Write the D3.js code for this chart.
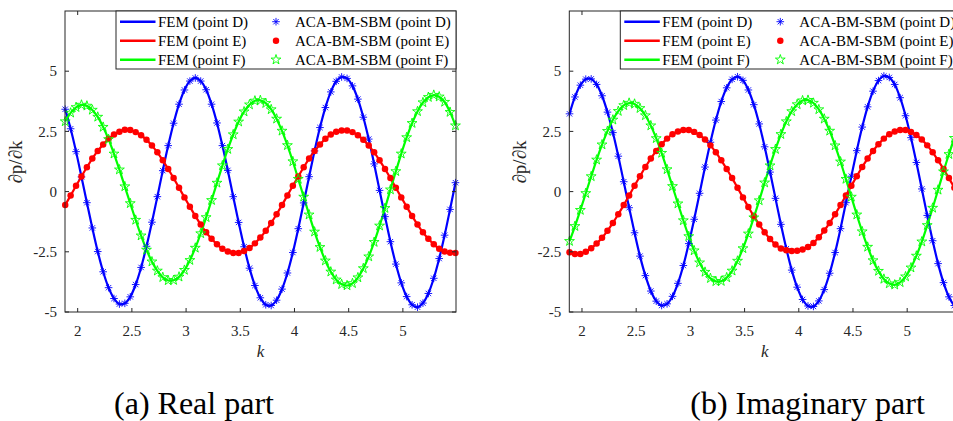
<!DOCTYPE html>
<html>
<head>
<meta charset="utf-8">
<script src="https://cdn.jsdelivr.net/npm/d3@7"></script>
<style>
  body { margin: 0; background: #fff; }
  svg { display: block; }
  text { font-family: "Liberation Serif", "Times New Roman", serif; }
</style>
</head>
<body>
<svg id="chart"></svg>
<script>
// k samples (shared by both panels)
var kValues = [1.885, 1.935, 1.985, 2.035, 2.085, 2.135, 2.185, 2.235, 2.285, 2.335,
  2.385, 2.435, 2.485, 2.535, 2.585, 2.635, 2.685, 2.735, 2.785, 2.835,
  2.885, 2.935, 2.985, 3.035, 3.085, 3.135, 3.185, 3.235, 3.285, 3.335,
  3.385, 3.435, 3.485, 3.535, 3.585, 3.635, 3.685, 3.735, 3.785, 3.835,
  3.885, 3.935, 3.985, 4.035, 4.085, 4.135, 4.185, 4.235, 4.285, 4.335,
  4.385, 4.435, 4.485, 4.535, 4.585, 4.635, 4.685, 4.735, 4.785, 4.835,
  4.885, 4.935, 4.985, 5.035, 5.085, 5.135, 5.185, 5.235, 5.285, 5.335,
  5.385, 5.435, 5.485];

// (a) real part
var realD = [3.42, 2.61, 1.66, 0.61, -0.46, -1.51, -2.49, -3.33, -3.99, -4.44,
  -4.67, -4.64, -4.37, -3.86, -3.15, -2.27, -1.27, -0.21, 0.87, 1.91,
  2.84, 3.63, 4.22, 4.59, 4.72, 4.59, 4.23, 3.63, 2.85, 1.91,
  0.88, -0.21, -1.28, -2.29, -3.18, -3.90, -4.41, -4.70, -4.73, -4.51,
  -4.05, -3.38, -2.53, -1.54, -0.47, 0.62, 1.69, 2.66, 3.49, 4.14,
  4.58, 4.76, 4.70, 4.39, 3.84, 3.09, 2.18, 1.15, 0.05, -1.04,
  -2.08, -3.01, -3.79, -4.36, -4.70, -4.80, -4.63, -4.23, -3.60, -2.78,
  -1.81, -0.74, 0.37];
var realE = [-0.56, -0.16, 0.24, 0.63, 1.01, 1.37, 1.69, 1.96, 2.19, 2.37,
  2.49, 2.57, 2.56, 2.47, 2.34, 2.15, 1.91, 1.63, 1.30, 0.94,
  0.56, 0.16, -0.24, -0.63, -1.01, -1.37, -1.69, -1.96, -2.19, -2.37,
  -2.49, -2.55, -2.55, -2.47, -2.34, -2.15, -1.91, -1.63, -1.30, -0.94,
  -0.56, -0.16, 0.24, 0.63, 1.01, 1.37, 1.69, 1.96, 2.19, 2.37,
  2.49, 2.54, 2.54, 2.47, 2.34, 2.15, 1.91, 1.63, 1.30, 0.94,
  0.56, 0.16, -0.24, -0.63, -1.01, -1.37, -1.69, -1.96, -2.19, -2.37,
  -2.49, -2.54, -2.55];
var realF = [2.91, 3.27, 3.50, 3.60, 3.56, 3.39, 3.10, 2.68, 2.17, 1.57,
  0.91, 0.21, -0.49, -1.18, -1.83, -2.42, -2.91, -3.29, -3.56, -3.69,
  -3.68, -3.54, -3.26, -2.85, -2.34, -1.74, -1.07, -0.36, 0.36, 1.08,
  1.76, 2.37, 2.90, 3.32, 3.61, 3.77, 3.79, 3.67, 3.41, 3.02,
  2.52, 1.92, 1.25, 0.52, -0.22, -0.96, -1.67, -2.31, -2.87, -3.33,
  -3.66, -3.85, -3.90, -3.81, -3.57, -3.19, -2.70, -2.10, -1.42, -0.69,
  0.08, 0.84, 1.57, 2.25, 2.84, 3.33, 3.70, 3.92, 4.01, 3.94,
  3.72, 3.30, 2.74];

// (b) imaginary part
var imagD = [3.23, 3.93, 4.42, 4.67, 4.68, 4.45, 3.98, 3.30, 2.45, 1.47,
  0.41, -0.67, -1.71, -2.68, -3.49, -4.13, -4.55, -4.73, -4.66, -4.35,
  -3.81, -3.07, -2.16, -1.15, -0.07, 1.02, 2.05, 2.97, 3.74, 4.31,
  4.66, 4.77, 4.62, 4.22, 3.61, 2.81, 1.86, 0.81, -0.28, -1.36,
  -2.37, -3.26, -3.97, -4.48, -4.75, -4.77, -4.54, -4.07, -3.39, -2.53,
  -1.54, -0.46, 0.64, 1.70, 2.68, 3.52, 4.17, 4.61, 4.80, 4.74,
  4.45, 3.90, 3.15, 2.24, 1.21, 0.11, -0.99, -2.04, -2.99, -3.78,
  -4.37, -4.73, -4.85];
var imagE = [-2.52, -2.59, -2.59, -2.50, -2.35, -2.16, -1.92, -1.63, -1.30, -0.94,
  -0.56, -0.16, 0.24, 0.64, 1.02, 1.37, 1.69, 1.97, 2.20, 2.38,
  2.50, 2.56, 2.56, 2.48, 2.35, 2.16, 1.92, 1.63, 1.30, 0.94,
  0.56, 0.16, -0.24, -0.64, -1.02, -1.37, -1.69, -1.97, -2.20, -2.36,
  -2.44, -2.47, -2.46, -2.40, -2.30, -2.13, -1.90, -1.62, -1.30, -0.94,
  -0.56, -0.16, 0.24, 0.64, 1.02, 1.37, 1.69, 1.97, 2.20, 2.38,
  2.50, 2.56, 2.56, 2.48, 2.35, 2.16, 1.92, 1.63, 1.30, 0.94,
  0.56, 0.16, -0.24];
var imagF = [-2.06, -1.44, -0.77, -0.07, 0.63, 1.32, 1.95, 2.51, 2.98, 3.34,
  3.58, 3.68, 3.64, 3.46, 3.16, 2.74, 2.21, 1.60, 0.92, 0.22,
  -0.50, -1.20, -1.86, -2.45, -2.95, -3.34, -3.60, -3.73, -3.72, -3.57,
  -3.29, -2.88, -2.36, -1.75, -1.08, -0.37, 0.37, 1.08, 1.76, 2.38,
  2.91, 3.33, 3.62, 3.78, 3.80, 3.68, 3.41, 3.02, 2.52, 1.91,
  1.24, 0.52, -0.22, -0.96, -1.66, -2.30, -2.86, -3.30, -3.63, -3.82,
  -3.87, -3.77, -3.53, -3.16, -2.67, -2.08, -1.40, -0.68, 0.07, 0.83,
  1.55, 2.22, 2.80];

var xTicks = [2, 2.5, 3, 3.5, 4, 4.5, 5];
var yTicks = [-5, -2.5, 0, 2.5, 5];
var pointNames = ["D", "E", "F"];
var seriesColors = ["#0000ff", "#ff0000", "#00ff00"];
var captions = ["(a) Real part", "(b) Imaginary part"];

var Application = (function(){
    var width = 953;
    var height = 421;
    var plotW = 391;
    var plotTop = 11;
    var plotBottom = 312;
    var axisColor = "#262626";
    var svg;

    var yScale = d3.scaleLinear()
        .domain([-5, 7.5])
        .range([plotBottom, plotTop]);

    function markerPath(kind){
        if(kind === 0){
            var r = 3.8, a = r * 0.7071;
            return "M" + (-r) + ",0H" + r + "M0," + (-r) + "V" + r +
                   "M" + (-a) + "," + (-a) + "L" + a + "," + a +
                   "M" + (-a) + "," + a + "L" + a + "," + (-a);
        }
        if(kind === 1){
            return d3.symbol(d3.symbolCircle, 33)();
        }
        return d3.symbol(d3.symbolStar, 30)();
    }

    function styleMarker(sel, kind){
        if(kind === 1){
            sel.attr("fill", seriesColors[1]).attr("stroke", "none");
        } else {
            sel.attr("fill", "none")
               .attr("stroke", seriesColors[kind])
               .attr("stroke-width", 0.9);
        }
    }

    function drawPanel(left, series, caption, captionX){
        var right = left + plotW;
        var x = d3.scaleLinear()
            .domain([1.883, 5.49])
            .range([left, right]);

        var g = svg.append("g");

        // FEM curves
        var line = d3.line()
            .x((d, i) => x(kValues[i]))
            .y(d => yScale(d))
            .curve(d3.curveCatmullRom.alpha(0.5));

        series.forEach(function(vals, s){
            g.append("path")
                .attr("d", line(vals))
                .attr("fill", "none")
                .attr("stroke", seriesColors[s])
                .attr("stroke-width", 2.2);
        });

        // ACA-BM-SBM markers
        series.forEach(function(vals, s){
            var m = g.append("g").selectAll("path")
                .data(vals)
                .enter()
                .append("path")
                    .attr("d", markerPath(s))
                    .attr("transform", (d, i) => "translate(" + x(kValues[i]) + "," + yScale(d) + ")");
            styleMarker(m, s);
        });

        // box
        g.append("rect")
            .attr("x", left).attr("y", plotTop)
            .attr("width", plotW).attr("height", plotBottom - plotTop)
            .attr("fill", "none")
            .attr("stroke", axisColor)
            .attr("stroke-width", 1);

        // ticks (inward, mirrored)
        xTicks.forEach(function(t){
            var px = x(t);
            g.append("line").attr("x1", px).attr("x2", px)
                .attr("y1", plotBottom).attr("y2", plotBottom - 4)
                .attr("stroke", axisColor);
            g.append("line").attr("x1", px).attr("x2", px)
                .attr("y1", plotTop).attr("y2", plotTop + 4)
                .attr("stroke", axisColor);
            g.append("text")
                .attr("x", px).attr("y", 335.5)
                .attr("text-anchor", "middle")
                .attr("font-size", 15)
                .attr("fill", axisColor)
                .text(t);
        });
        yTicks.forEach(function(t){
            var py = yScale(t);
            g.append("line").attr("x1", left).attr("x2", left + 4)
                .attr("y1", py).attr("y2", py)
                .attr("stroke", axisColor);
            g.append("line").attr("x1", right).attr("x2", right - 4)
                .attr("y1", py).attr("y2", py)
                .attr("stroke", axisColor);
            g.append("text")
                .attr("x", left - 8).attr("y", py)
                .attr("dy", "0.35em")
                .attr("text-anchor", "end")
                .attr("font-size", 15)
                .attr("fill", axisColor)
                .text(String(t));
        });

        // axis labels
        g.append("text")
            .attr("x", left + plotW / 2).attr("y", 356.5)
            .attr("text-anchor", "middle")
            .attr("font-size", 17)
            .attr("font-style", "italic")
            .attr("fill", axisColor)
            .text("k");
        g.append("text")
            .attr("transform", "translate(" + (left - 43) + ",162) rotate(-90)")
            .attr("text-anchor", "middle")
            .attr("font-size", 19)
            .attr("fill", axisColor)
            .text("\u2202p/\u2202k");

        // legend
        var lg = g.append("g").attr("transform", "translate(" + left + ",0)");
        lg.append("rect")
            .attr("x", 51).attr("y", plotTop)
            .attr("width", 340).attr("height", 58)
            .attr("fill", "#fff")
            .attr("stroke", axisColor)
            .attr("stroke-width", 1);
        pointNames.forEach(function(p, s){
            var ly = 21.7 + 19 * s;
            lg.append("line")
                .attr("x1", 55).attr("x2", 90.5)
                .attr("y1", ly).attr("y2", ly)
                .attr("stroke", seriesColors[s])
                .attr("stroke-width", 2.5);
            lg.append("text")
                .attr("x", 93).attr("y", ly).attr("dy", "0.35em")
                .attr("font-size", 15)
                .attr("fill", "#000")
                .text("FEM (point " + p + ")");
            var mk = lg.append("path")
                .attr("d", markerPath(s))
                .attr("transform", "translate(211," + ly + ")");
            styleMarker(mk, s);
            lg.append("text")
                .attr("x", 230).attr("y", ly).attr("dy", "0.35em")
                .attr("font-size", 15)
                .attr("fill", "#000")
                .text("ACA-BM-SBM (point " + p + ")");
        });

        // caption
        svg.append("text")
            .attr("x", captionX).attr("y", 414)
            .attr("text-anchor", "middle")
            .attr("font-size", 32)
            .attr("fill", "#000")
            .text(caption);
    }

    function svgInit(){
        svg = d3.select("#chart")
            .attr("width", width)
            .attr("height", height);
        svg.append("rect")
            .attr("width", width).attr("height", height)
            .attr("fill", "#fff");
        drawPanel(65, [realD, realE, realF], captions[0], 194);
        drawPanel(569.3, [imagD, imagE, imagF], captions[1], 807.5);
    }

    return {
        init: function(){
            svgInit();
        }
    };
})();

Application.init();
</script>
</body>
</html>
